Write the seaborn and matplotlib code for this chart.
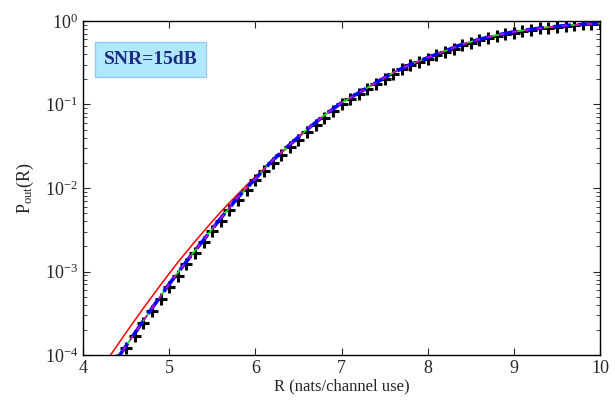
import numpy as np
import pandas as pd
import matplotlib
matplotlib.use("Agg")
import matplotlib.pyplot as plt
import seaborn as sns
from matplotlib.ticker import LogLocator, NullFormatter

# ------------------------------------------------------------------
# DATA (log10 of P_out)
# ------------------------------------------------------------------
R_sim = [4.4, 4.5, 4.6, 4.7, 4.8, 4.9, 5.0, 5.1, 5.2, 5.3, 5.4, 5.5, 5.6, 5.7,
         5.8, 5.9, 6.0, 6.1, 6.2, 6.3, 6.4, 6.5, 6.6, 6.7, 6.8, 6.9, 7.0, 7.1,
         7.2, 7.3, 7.4, 7.5, 7.6, 7.7, 7.8, 7.9, 8.0, 8.1, 8.2, 8.3, 8.4, 8.5,
         8.6, 8.7, 8.8, 8.9, 9.0, 9.1, 9.2, 9.3, 9.4, 9.5, 9.6, 9.7, 9.8, 9.9,
         10.0]
sim_log = [-4.06, -3.91, -3.77, -3.62, -3.47, -3.33, -3.18, -3.05, -2.91, -2.78,
           -2.65, -2.52, -2.39, -2.26, -2.14, -2.02, -1.91, -1.80, -1.70, -1.60,
           -1.51, -1.42, -1.33, -1.24, -1.16, -1.08, -1.00, -0.93, -0.87, -0.81,
           -0.75, -0.69, -0.63, -0.58, -0.53, -0.49, -0.45, -0.41, -0.37, -0.33,
           -0.29, -0.26, -0.23, -0.205, -0.18, -0.16, -0.14, -0.12, -0.105, -0.09,
           -0.08, -0.068, -0.058, -0.05, -0.042, -0.036, -0.03]

R_line = [4.4, 4.6, 4.8, 5.0, 5.2, 5.4, 5.6, 5.8, 6.0, 6.2, 6.4, 6.6, 6.8, 7.0,
          7.2, 7.4, 7.6, 7.8, 8.0, 8.2, 8.4, 8.6, 8.8, 9.0, 9.2, 9.4, 9.6, 9.8,
          10.0]
approx_log = [-4.04, -3.74, -3.44, -3.15, -2.88, -2.62, -2.36, -2.11, -1.89,
              -1.67, -1.48, -1.30, -1.13, -0.98, -0.86, -0.74, -0.62, -0.52,
              -0.44, -0.36, -0.28, -0.22, -0.17, -0.13, -0.10, -0.075, -0.055,
              -0.04, -0.03]

R_red = [4.2, 4.3, 4.4, 4.5, 4.6, 4.7, 4.8, 4.9, 5.0, 5.1, 5.2, 5.3, 5.4, 5.5,
         5.6, 5.7, 5.8, 5.9, 6.0, 6.2, 6.4, 6.6, 6.8, 7.0, 7.2, 7.4, 7.6, 7.8,
         8.0, 8.2, 8.4, 8.6, 8.8, 9.0, 9.2, 9.4, 9.6, 9.8, 10.0]
red_log = [-4.18, -4.03, -3.88, -3.73, -3.585, -3.44, -3.30, -3.16, -3.025,
           -2.89, -2.765, -2.64, -2.52, -2.40, -2.285, -2.175, -2.07, -1.965,
           -1.865, -1.675, -1.49, -1.30, -1.13, -0.98, -0.86, -0.74, -0.62,
           -0.52, -0.44, -0.36, -0.28, -0.22, -0.17, -0.13, -0.10, -0.075,
           -0.055, -0.04, -0.03]

sim = pd.DataFrame({"R": R_sim, "P": 10.0 ** np.array(sim_log)})
approx = pd.DataFrame({"R": R_line, "P": 10.0 ** np.array(approx_log)})
red = pd.DataFrame({"R": R_red, "P": 10.0 ** np.array(red_log)})

# ------------------------------------------------------------------
# STYLE
# ------------------------------------------------------------------
sns.set_style("ticks")
plt.rcParams["font.family"] = ["Liberation Serif", "DejaVu Serif"]
plt.rcParams["mathtext.fontset"] = "custom"
plt.rcParams["mathtext.rm"] = "Liberation Serif"
plt.rcParams["mathtext.it"] = "Liberation Serif:italic"
plt.rcParams["mathtext.bf"] = "Liberation Serif:bold"

fig = plt.figure(figsize=(6.15, 4.03), dpi=100)
ax = fig.add_axes([0.135, 0.119, 0.8406, 0.829])

# ------------------------------------------------------------------
# CURVES
# ------------------------------------------------------------------
sns.lineplot(data=red, x="R", y="P", ax=ax, color="#ff0000", linewidth=1.1)
sns.lineplot(data=approx, x="R", y="P", ax=ax, color="#00ee00", linewidth=1.2)
sns.lineplot(data=approx, x="R", y="P", ax=ax, color="#0000ff",
             linewidth=2.6, linestyle=(0, (5, 2.5)))
sns.lineplot(data=approx, x="R", y="P", ax=ax, color="#cc00cc",
             linewidth=1.3, linestyle=(2, (3, 4)))
sns.scatterplot(data=sim, x="R", y="P", ax=ax, marker="+", s=65,
                linewidth=2.2, color="black", zorder=1)

# ------------------------------------------------------------------
# AXES
# ------------------------------------------------------------------
ax.set_yscale("log")
ax.set_xlim(4, 10)
ax.set_ylim(1e-4, 1)
ax.set_xticks([4, 5, 6, 7, 8, 9, 10])
ax.yaxis.set_major_locator(LogLocator(base=10, numticks=10))
ax.yaxis.set_minor_locator(LogLocator(base=10, subs=np.arange(2, 10), numticks=20))
ax.yaxis.set_minor_formatter(NullFormatter())
ax.tick_params(which="both", direction="in", top=True, right=True, labelsize=13)
ax.tick_params(which="major", length=5, width=0.8)
ax.tick_params(which="minor", length=3, width=0.6)
for sp in ax.spines.values():
    sp.set_linewidth(1.0)
    sp.set_color("black")

ax.set_xlabel("R (nats/channel use)", fontsize=12, labelpad=1)
ax.set_ylabel(r"P$_{\mathrm{out}}$(R)", fontsize=13, labelpad=6)

ax.text(0.04, 0.885, "SNR=15dB", transform=ax.transAxes, fontsize=14,
        fontweight="bold", color="#1c2a80", va="center", ha="left",
        bbox=dict(boxstyle="square,pad=0.45", facecolor="#b0e8ff",
                  edgecolor="#9ac8f0", linewidth=1))

fig.savefig("out.png", dpi=100)
